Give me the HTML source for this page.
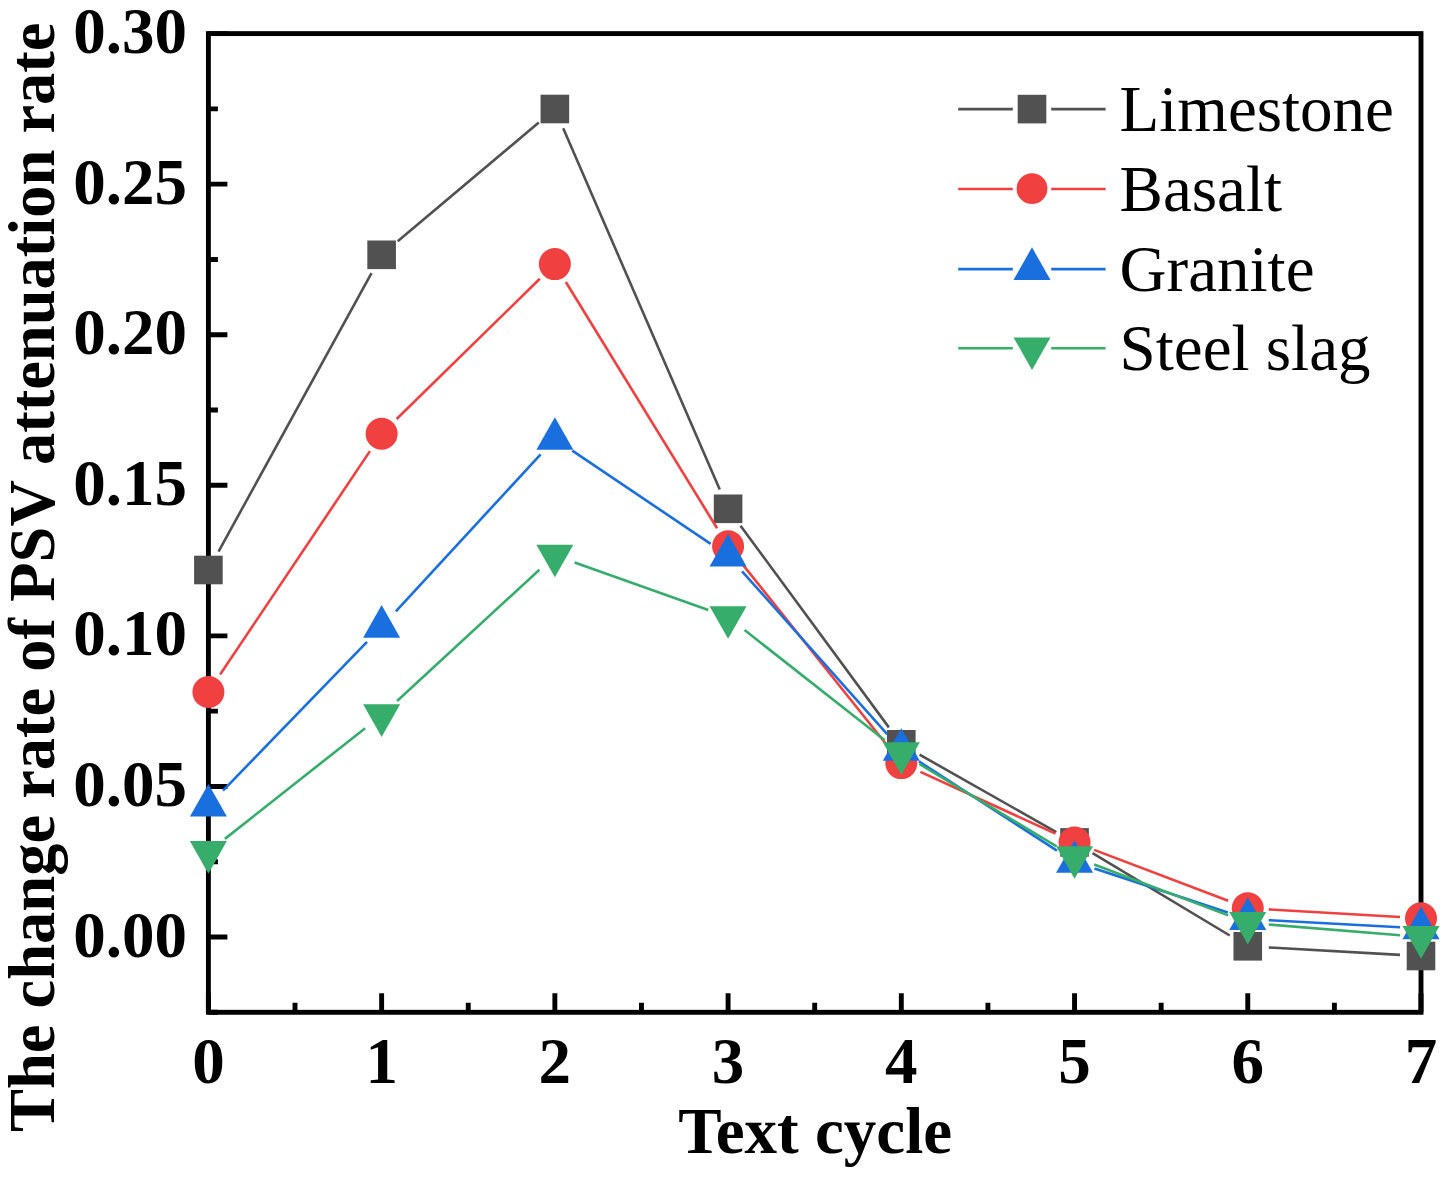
<!DOCTYPE html>
<html><head><meta charset="utf-8"><title>Chart</title>
<style>html,body{margin:0;padding:0;background:#fff;width:1449px;height:1181px;overflow:hidden}svg{display:block}text{font-family:"Liberation Serif",serif}</style>
</head><body>
<svg width="1449" height="1181" viewBox="0 0 1449 1181">
<rect width="1449" height="1181" fill="#fff"/>
<text x="187" y="53.20" text-anchor="end" font-size="65" font-weight="bold" font-family="Liberation Serif">0.30</text><text x="187" y="203.77" text-anchor="end" font-size="65" font-weight="bold" font-family="Liberation Serif">0.25</text><text x="187" y="354.34" text-anchor="end" font-size="65" font-weight="bold" font-family="Liberation Serif">0.20</text><text x="187" y="504.91" text-anchor="end" font-size="65" font-weight="bold" font-family="Liberation Serif">0.15</text><text x="187" y="655.48" text-anchor="end" font-size="65" font-weight="bold" font-family="Liberation Serif">0.10</text><text x="187" y="806.05" text-anchor="end" font-size="65" font-weight="bold" font-family="Liberation Serif">0.05</text><text x="187" y="956.62" text-anchor="end" font-size="65" font-weight="bold" font-family="Liberation Serif">0.00</text><text x="208.40" y="1083" text-anchor="middle" font-size="65" font-weight="bold" font-family="Liberation Serif">0</text><text x="381.63" y="1083" text-anchor="middle" font-size="65" font-weight="bold" font-family="Liberation Serif">1</text><text x="554.86" y="1083" text-anchor="middle" font-size="65" font-weight="bold" font-family="Liberation Serif">2</text><text x="728.09" y="1083" text-anchor="middle" font-size="65" font-weight="bold" font-family="Liberation Serif">3</text><text x="901.31" y="1083" text-anchor="middle" font-size="65" font-weight="bold" font-family="Liberation Serif">4</text><text x="1074.54" y="1083" text-anchor="middle" font-size="65" font-weight="bold" font-family="Liberation Serif">5</text><text x="1247.77" y="1083" text-anchor="middle" font-size="65" font-weight="bold" font-family="Liberation Serif">6</text><text x="1421.00" y="1083" text-anchor="middle" font-size="65" font-weight="bold" font-family="Liberation Serif">7</text><text x="815.2" y="1153" text-anchor="middle" font-size="65" font-weight="bold" font-family="Liberation Serif">Text cycle</text><text transform="translate(53.9 577.3) rotate(-90)" text-anchor="middle" font-size="64.5" font-weight="bold" font-family="Liberation Serif">The change rate of PSV attenuation rate</text>
<path d="M958.2 109.1H1012.8M1051.2 109.1H1105.6" stroke="#515151" stroke-width="2.6" fill="none"/><rect x="1017.70" y="94.80" width="28.6" height="28.6" fill="#515151"/><text x="1119.6" y="130.80" font-size="65" font-family="Liberation Serif">Limestone</text><path d="M958.2 189.0H1012.8M1051.2 189.0H1105.6" stroke="#F14040" stroke-width="2.6" fill="none"/><circle cx="1032.00" cy="188.70" r="15.4" fill="#F14040"/><text x="1119.6" y="210.70" font-size="65" font-family="Liberation Serif">Basalt</text><path d="M958.2 269.1H1012.8M1051.2 269.1H1105.6" stroke="#1A6FDF" stroke-width="2.6" fill="none"/><path d="M1032.00 247.37L1050.50 279.97L1013.50 279.97Z" fill="#1A6FDF"/><text x="1119.6" y="290.80" font-size="65" font-family="Liberation Serif">Granite</text><path d="M958.2 348.3H1012.8M1051.2 348.3H1105.6" stroke="#37AD6B" stroke-width="2.6" fill="none"/><path d="M1013.50 337.43L1050.50 337.43L1032.00 370.03Z" fill="#37AD6B"/><text x="1119.6" y="370.00" font-size="65" font-family="Liberation Serif">Steel slag</text>
<rect x="208.4" y="33.6" width="1212.6" height="978.6999999999999" fill="none" stroke="#000" stroke-width="4.9"/><path d="M208.40 1012.30V993.30M295.01 1012.30V1002.80M381.63 1012.30V993.30M468.24 1012.30V1002.80M554.86 1012.30V993.30M641.47 1012.30V1002.80M728.09 1012.30V993.30M814.70 1012.30V1002.80M901.31 1012.30V993.30M987.93 1012.30V1002.80M1074.54 1012.30V993.30M1161.16 1012.30V1002.80M1247.77 1012.30V993.30M1334.39 1012.30V1002.80M1421.00 1012.30V993.30M208.40 33.60H227.40M208.40 184.17H227.40M208.40 334.74H227.40M208.40 485.31H227.40M208.40 635.88H227.40M208.40 786.45H227.40M208.40 937.02H227.40M208.40 108.88H217.90M208.40 259.45H217.90M208.40 410.02H217.90M208.40 560.59H217.90M208.40 711.16H217.90M208.40 861.73H217.90M208.40 1012.30H217.90" stroke="#000" stroke-width="4.9" fill="none"/>
<path d="M218.51 551.60L371.51 273.20M397.70 241.28L538.79 122.52M563.21 128.27L719.74 489.53M740.53 525.72L888.87 727.38M919.59 754.65L1056.27 832.05M1092.55 853.20L1229.76 935.50M1268.74 947.47L1400.03 954.83" stroke="#515151" stroke-width="2.6" fill="none"/><rect x="194.10" y="555.70" width="28.6" height="28.6" fill="#515151"/><rect x="367.33" y="240.50" width="28.6" height="28.6" fill="#515151"/><rect x="540.56" y="94.70" width="28.6" height="28.6" fill="#515151"/><rect x="713.79" y="494.50" width="28.6" height="28.6" fill="#515151"/><rect x="887.01" y="730.00" width="28.6" height="28.6" fill="#515151"/><rect x="1060.24" y="828.10" width="28.6" height="28.6" fill="#515151"/><rect x="1233.47" y="932.00" width="28.6" height="28.6" fill="#515151"/><rect x="1406.70" y="941.70" width="28.6" height="28.6" fill="#515151"/><path d="M220.10 674.56L369.93 451.14M396.63 419.01L539.85 278.79M565.85 282.00L717.10 528.30M741.19 562.61L888.21 746.69M920.41 771.84L1055.45 833.66M1094.17 849.86L1228.14 900.74M1268.74 909.41L1400.03 916.99" stroke="#F14040" stroke-width="2.6" fill="none"/><circle cx="208.40" cy="692.00" r="16.0" fill="#F14040"/><circle cx="381.63" cy="433.70" r="16.0" fill="#F14040"/><circle cx="554.86" cy="264.10" r="16.0" fill="#F14040"/><circle cx="728.09" cy="546.20" r="16.0" fill="#F14040"/><circle cx="901.31" cy="763.10" r="16.0" fill="#F14040"/><circle cx="1074.54" cy="842.40" r="16.0" fill="#F14040"/><circle cx="1247.77" cy="908.20" r="16.0" fill="#F14040"/><circle cx="1421.00" cy="918.20" r="16.0" fill="#F14040"/><path d="M223.01 790.61L367.02 641.89M395.86 611.36L540.62 454.34M572.27 450.63L710.67 543.87M742.06 571.28L887.34 734.32M918.95 761.40L1056.91 850.60M1094.49 868.57L1227.83 912.53M1268.74 920.21L1400.03 927.19" stroke="#1A6FDF" stroke-width="2.6" fill="none"/><path d="M208.40 783.97L226.90 816.57L189.90 816.57Z" fill="#1A6FDF"/><path d="M381.63 605.07L400.13 637.67L363.13 637.67Z" fill="#1A6FDF"/><path d="M554.86 417.17L573.36 449.77L536.36 449.77Z" fill="#1A6FDF"/><path d="M728.09 533.87L746.59 566.47L709.59 566.47Z" fill="#1A6FDF"/><path d="M901.31 728.27L919.81 760.87L882.81 760.87Z" fill="#1A6FDF"/><path d="M1074.54 840.27L1093.04 872.87L1056.04 872.87Z" fill="#1A6FDF"/><path d="M1247.77 897.37L1266.27 929.97L1229.27 929.97Z" fill="#1A6FDF"/><path d="M1421.00 906.57L1439.50 939.17L1402.50 939.17Z" fill="#1A6FDF"/><path d="M224.89 838.89L365.14 728.21M397.07 700.97L539.42 569.73M574.64 562.54L708.30 610.06M744.60 630.07L884.80 740.23M919.32 764.00L1056.53 846.30M1094.18 864.55L1228.14 915.35M1268.70 924.50L1400.07 935.20" stroke="#37AD6B" stroke-width="2.6" fill="none"/><path d="M189.90 841.03L226.90 841.03L208.40 873.63Z" fill="#37AD6B"/><path d="M363.13 704.33L400.13 704.33L381.63 736.93Z" fill="#37AD6B"/><path d="M536.36 544.63L573.36 544.63L554.86 577.23Z" fill="#37AD6B"/><path d="M709.59 606.23L746.59 606.23L728.09 638.83Z" fill="#37AD6B"/><path d="M882.81 742.33L919.81 742.33L901.31 774.93Z" fill="#37AD6B"/><path d="M1056.04 846.23L1093.04 846.23L1074.54 878.83Z" fill="#37AD6B"/><path d="M1229.27 911.93L1266.27 911.93L1247.77 944.53Z" fill="#37AD6B"/><path d="M1402.50 926.03L1439.50 926.03L1421.00 958.63Z" fill="#37AD6B"/>
</svg>
</body></html>
